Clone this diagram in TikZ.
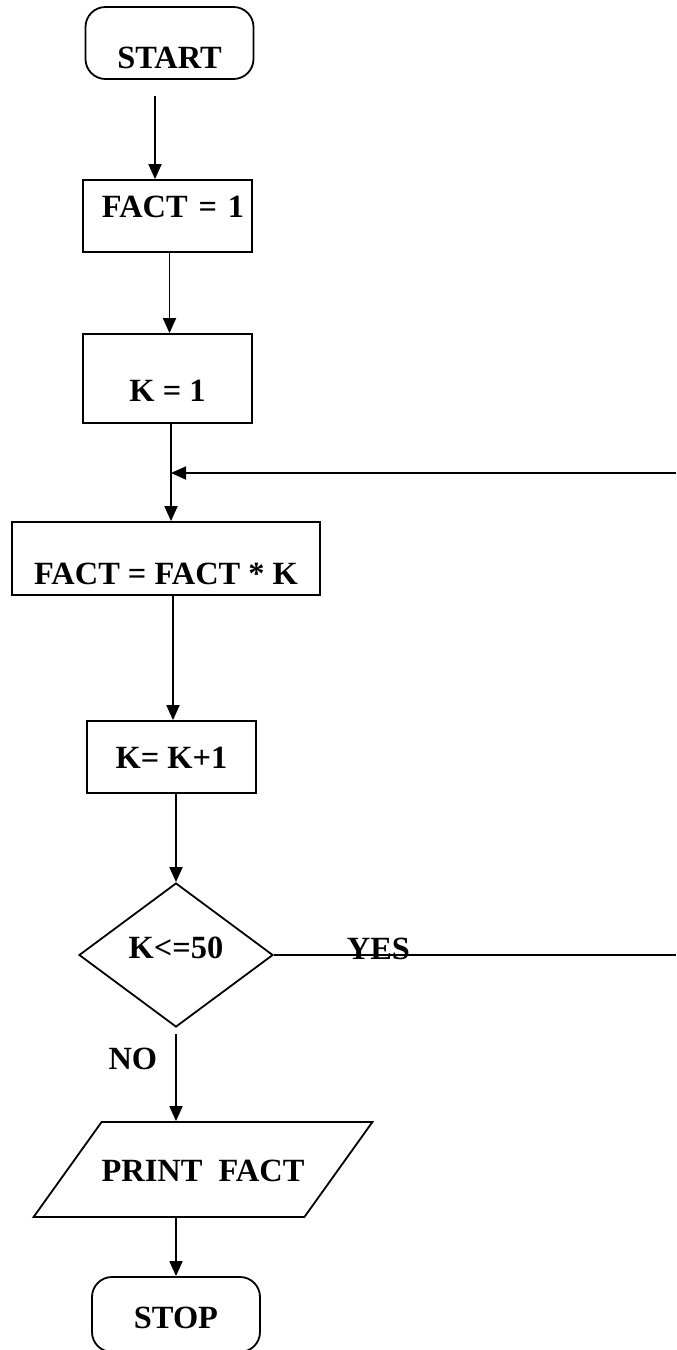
\documentclass[tikz,border=0pt]{standalone}
\usepackage{fontspec}
\setmainfont{Liberation Serif}
\usetikzlibrary{shapes.geometric,arrows.meta}

\begin{document}
\begin{tikzpicture}[x=0.5pt, y=-0.5pt, line width=0.9pt, every node/.style={font=\bfseries\fontsize{16.2}{19}\selectfont, inner sep=2pt}, term/.style={draw, rounded corners=10pt, minimum width=84pt, minimum height=36pt}, proc/.style={draw, minimum width=84.5pt, minimum height=36pt}, dec/.style={draw, diamond, aspect=1.35, minimum width=97pt, minimum height=72pt, inner sep=0pt}, io/.style={draw, trapezium, trapezium left angle=54.4, trapezium right angle=125.6, trapezium stretches body=true, inner xsep=0pt, inner ysep=18pt, text height=11.5pt, text depth=0pt}, arr/.style={-{Triangle[length=7.5pt,width=6.5pt]}}, lbl/.style={inner sep=0pt}]
  \useasboundingbox (0,0) rectangle (676,1350);
  \node[term, text height=25.3pt, text depth=0pt] (start) at (169.5,43) {START};
  \node[proc, text width=76.5pt, align=right, inner xsep=4pt, text height=10.8pt, text depth=9pt] (fact1) at (167.5,216) {FACT = 1};
  \node[proc, minimum height=44.5pt, text height=23.3pt, text depth=0pt] (k1) at (167.5,378.5) {K = 1};
  \node[proc, minimum width=154pt, minimum height=36.5pt, text height=25.8pt, text depth=0pt] (factk) at (166,558.5) {FACT = FACT * K};
  \node[proc, text height=11.8pt, text depth=0pt] (kinc) at (171.5,757) {K= K+1};
  \node[dec, text height=10.8pt, text depth=7pt] (test) at (176,955) {K<=50};
  \node[io] (print) at (203,1169.5) {PRINT\ \ FACT};
  \node[term, minimum height=37.5pt, text height=14.3pt, text depth=0pt] (stop) at (176,1314.5) {STOP};
  \coordinate (join) at (171,473);
  \coordinate (back) at (676,473);
  \coordinate (yesend) at (676,955);
  \draw[arr] ([shift={(-14.5,16)}]start.south) -- ([shift={(-12.5,0)}]fact1.north);
  \draw[arr] ([shift={(2,0)}]fact1.south) -- ([shift={(2,0)}]k1.north);
  \draw[arr] ([shift={(3.5,0)}]k1.south) -- ([shift={(5,0)}]factk.north);
  \draw[arr] (back) -- (join);
  \draw[arr] ([shift={(7,0)}]factk.south) -- ([shift={(1.5,0)}]kinc.north);
  \draw[arr] ([shift={(4.5,0)}]kinc.south) -- (test.north);
  \draw (test.east) -- node[lbl, pos=0.26, anchor=base, yshift=-2pt] {YES} (yesend);
  \draw[arr] ([yshift=-3pt]test.south) -- node[lbl, pos=0.29, left=9pt] {NO} (test.south |- print.north);
  \draw[arr] (stop.north |- print.south) -- (stop.north);
\end{tikzpicture}
\end{document}
